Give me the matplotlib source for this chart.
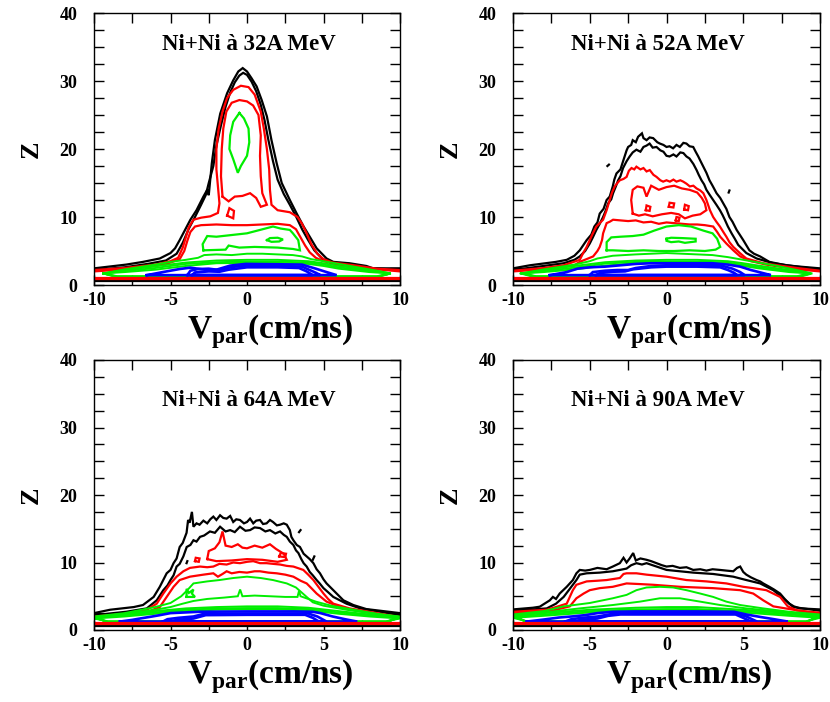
import matplotlib
matplotlib.use("Agg")
import matplotlib.pyplot as plt
from matplotlib.ticker import MultipleLocator

plt.rcParams['font.family'] = ['Liberation Serif', 'DejaVu Serif']
plt.rcParams['font.weight'] = 'bold'
plt.rcParams['mathtext.fontset'] = 'custom'
plt.rcParams['mathtext.rm'] = 'Liberation Serif:bold'
plt.rcParams['mathtext.bf'] = 'Liberation Serif:bold'
plt.rcParams['axes.unicode_minus'] = False

RED = '#ff0000'
GREEN = '#00ee00'
BLUE = '#0000ff'

titles = ['Ni+Ni à 32A MeV', 'Ni+Ni à 52A MeV', 'Ni+Ni à 64A MeV', 'Ni+Ni à 90A MeV']

# ---------------- Ni+Ni 32A MeV ----------------
n32_black1 = [(-10, 2.45), (-7.9, 3.0), (-6.8, 3.4), (-5.7, 3.9), (-5.0, 4.7), (-4.7, 5.4), (-4.4, 6.6),
              (-4.05, 8.1), (-3.7, 9.6), (-3.3, 11.0), (-2.85, 13.0), (-2.6, 14.0), (-2.5, 13.2), (-2.3, 17.9),
              (-2.1, 21.3), (-1.75, 25.2), (-1.3, 28.2), (-0.9, 30.1), (-0.57, 31.4), (-0.28, 31.9), (0.0, 31.4),
              (0.3, 30.4), (0.63, 29.2), (0.96, 27.2), (1.3, 24.8), (1.6, 21.3), (1.94, 17.9), (2.27, 15.0),
              (2.8, 12.5), (3.25, 10.5), (3.7, 8.6), (4.1, 7.1), (4.55, 5.4), (5.2, 3.9), (5.64, 3.4),
              (6.7, 3.2), (7.8, 2.8), (8.25, 2.45), (10, 2.45)]
n32_black2 = [(-10, 2.2), (-8, 2.6), (-6.5, 3.1), (-5.3, 3.6), (-4.6, 4.6), (-4.2, 6.2), (-3.8, 8.3),
              (-3.4, 10.0), (-3.0, 11.8), (-2.7, 13.2), (-2.5, 15.0), (-2.2, 17.5), (-2.0, 20.5), (-1.7, 23.5),
              (-1.4, 26.2), (-1.1, 28.3), (-0.8, 29.8), (-0.5, 30.8), (-0.25, 31.2), (0.0, 30.9), (0.3, 29.9),
              (0.6, 28.5), (0.9, 26.5), (1.15, 24.2), (1.4, 21.3), (1.7, 18.2), (2.0, 15.5), (2.4, 13.4),
              (2.8, 11.8), (3.2, 10.1), (3.6, 8.2), (4.0, 6.6), (4.4, 5.1), (4.9, 3.9), (5.5, 3.2), (7, 2.9),
              (8, 2.5), (10, 2.2)]
n32_red1 = [(-10, 2.2), (-8, 2.5), (-6, 3.0), (-5, 3.5), (-4.5, 4.0), (-4.2, 5.5), (-4.0, 7.0), (-3.8, 8.5),
            (-3.5, 9.6), (-3.0, 9.9), (-2.4, 10.1), (-1.9, 10.6), (-1.8, 12.0), (-1.9, 14.5), (-2.0, 17.0),
            (-2.0, 20.0), (-1.85, 23.0), (-1.6, 25.5), (-1.3, 27.5), (-0.9, 28.7), (-0.4, 29.3), (0.1, 29.1),
            (0.5, 28.0), (0.9, 25.5), (1.1, 23.0), (1.3, 20.0), (1.45, 17.0), (1.5, 14.0), (1.6, 11.8),
            (2.0, 11.0), (2.8, 10.7), (3.3, 10.0), (3.6, 9.0), (3.9, 7.6), (4.2, 6.0), (4.6, 4.6), (5.0, 3.8),
            (5.6, 3.3), (7, 2.9), (8.5, 2.4), (10, 2.2)]
n32_red2 = [(-10, 2.0), (-8, 2.3), (-6, 2.8), (-5, 3.3), (-4.4, 3.8), (-4.1, 5.0), (-3.9, 6.5), (-3.7, 7.8),
            (-3.4, 8.6), (-3, 8.8), (-2, 8.9), (-1, 8.8), (0, 8.8), (1, 8.9), (2, 9.0), (2.8, 8.8), (3.2, 8.2),
            (3.5, 7.0), (3.8, 5.8), (4.1, 4.8), (4.5, 4.0), (5.0, 3.5), (6, 3.0), (8, 2.4), (10, 2.0)]
n32_red_islands = [
    [(-1.6, 13), (-1.7, 16), (-1.65, 20), (-1.55, 23), (-1.35, 25.5), (-1.0, 26.8), (-0.5, 27.2), (0, 27),
     (0.4, 26.4), (0.75, 25), (0.9, 22), (0.85, 19), (0.9, 16), (1.0, 13.5), (1.3, 11.8), (0.9, 11.5),
     (0.6, 12.8), (0.2, 13.5), (-0.3, 13.1), (-0.8, 13.0), (-1.2, 12.3), (-1.6, 13)],
    [(-1.3, 10.2), (-1.15, 11.3), (-0.85, 10.9), (-0.9, 9.8), (-1.3, 10.2)],
]
n32_green_islands = [
    [(-0.5, 25.3), (-0.9, 24), (-1.1, 22), (-1.15, 20), (-0.9, 18.5), (-0.6, 16.5), (-0.4, 17.5), (0, 19),
     (0.15, 21), (0.1, 23), (-0.2, 24.5), (-0.5, 25.3)],
    [(-2.85, 5.1), (-2.9, 6.0), (-2.6, 7.2), (-2, 7.1), (-1, 7.35), (0, 7.6), (0.85, 8.1), (1.7, 8.6),
     (2.2, 8.3), (2.8, 8.1), (3.0, 7.6), (3.35, 6.6), (3.46, 5.1), (3.0, 5.3), (2, 5.5), (0.5, 5.6),
     (-0.5, 5.5), (-1.2, 5.8), (-1.4, 5.2), (-2.85, 5.1)],
    [(1.3, 6.6), (1.5, 6.9), (2.0, 6.95), (2.35, 6.7), (2.1, 6.4), (1.6, 6.35), (1.3, 6.6)],
]
n32_green_band = [
    [(-9.4, 1.7), (-8, 2.3), (-6, 3.0), (-5, 3.4), (-4, 3.7), (-3.2, 4.0), (-2.8, 4.4), (-2, 4.5), (-1, 4.4),
     (0, 4.6), (1, 4.6), (2, 4.5), (3, 4.4), (3.6, 4.2), (4.2, 3.8), (5, 3.5), (6, 3.1), (7, 2.7), (8.5, 2.1),
     (9.4, 1.7)],
    [(-9.4, 1.7), (-8, 2.2), (-6, 2.75), (-4, 3.3), (-2, 3.6), (0, 3.7), (2, 3.7), (4, 3.5), (5, 3.2), (6, 2.8),
     (8, 2.2), (9.4, 1.7)],
    [(-9.4, 1.7), (-8, 2.05), (-6, 2.5), (-4, 3.1), (-2, 3.35), (0, 3.45), (2, 3.45), (4, 3.3), (5, 3.0),
     (6, 2.6), (8, 2.05), (9.4, 1.7)],
    [(-9.4, 1.7), (-8, 1.9), (-6, 2.25), (-4, 2.8), (-2, 3.2), (0, 3.25), (2, 3.25), (4, 3.1), (5, 2.8),
     (6, 2.4), (8, 1.9), (9.4, 1.7)],
]
n32_blue = [
    [(-6.55, 1.45), (-5.5, 1.9), (-4.4, 2.35), (-3.7, 2.55), (-2.6, 2.2), (-2.0, 2.25), (-1.1, 2.85),
     (-0.1, 3.1), (2, 3.05), (3.6, 3.0), (4.5, 2.4), (5.2, 1.9), (5.86, 1.45)],
    [(-3.9, 1.45), (-3.7, 2.1), (-3.2, 2.35), (-2.5, 2.4), (-1.8, 2.2), (-1.3, 2.5), (-0.8, 2.7), (0, 2.8),
     (2, 2.8), (3.6, 2.7), (4.0, 2.3), (4.5, 1.8), (4.8, 1.45)],
    [(-3.6, 1.45), (-3.4, 1.85), (-2.5, 2.0), (-1.8, 1.95), (-1.2, 2.25), (0, 2.6), (2, 2.6), (3.4, 2.5),
     (3.9, 2.0), (4.3, 1.45)],
]
n32_floors = [0.55, 0.7, 0.85, 1.0, 1.15, 1.45]
n32_marks = []

# ---------------- Ni+Ni 52A MeV ----------------
n52_black1 = [(-10, 2.45), (-8.9, 2.9), (-7.2, 3.4), (-6.5, 3.7), (-6.0, 4.3), (-5.65, 5.1), (-5.2, 6.6),
              (-4.9, 7.4), (-4.7, 8.6), (-4.5, 9.2), (-4.35, 10.5), (-4.1, 11.2), (-3.9, 12.5), (-3.7, 13.0),
              (-3.5, 14.5), (-3.4, 15.5), (-3.26, 16.4), (-3.0, 17.0), (-2.8, 18.4), (-2.6, 19.8), (-2.5, 20.3),
              (-2.3, 20.6), (-2.2, 21.3), (-2.0, 21.0), (-1.85, 21.8), (-1.6, 22.3), (-1.5, 21.6), (-1.3, 21.3),
              (-1.1, 21.7), (-0.87, 21.6), (-0.6, 21.0), (-0.43, 20.8), (-0.2, 20.6), (0.0, 20.3), (0.2, 20.4),
              (0.43, 20.1), (0.65, 20.6), (0.87, 20.3), (1.1, 20.9), (1.3, 20.8), (1.5, 20.4), (1.74, 20.3),
              (1.9, 19.6), (2.07, 18.9), (2.2, 18.3), (2.4, 17.4), (2.6, 16.5), (2.8, 15.4), (3.0, 14.6),
              (3.26, 13.5), (3.5, 12.8), (3.7, 12.0), (3.9, 11.2), (4.1, 10.0), (4.3, 9.3), (4.57, 8.1),
              (4.8, 7.3), (5.0, 6.6), (5.4, 5.1), (5.7, 4.6), (6.1, 4.2), (6.7, 3.4), (7.8, 2.9), (8.7, 2.7),
              (10, 2.45)]
n52_black2 = [(-10, 2.2), (-8, 2.8), (-6.7, 3.2), (-6.0, 3.7), (-5.65, 4.2), (-5.3, 5.0), (-5.0, 6.1),
              (-4.8, 7.0), (-4.57, 8.1), (-4.35, 9.0), (-4.13, 10.0), (-3.95, 11.0), (-3.8, 12.0), (-3.6, 12.6),
              (-3.48, 13.5), (-3.3, 14.5), (-3.15, 15.4), (-3.0, 16.0), (-2.83, 17.2), (-2.6, 18.2), (-2.4, 18.9),
              (-2.2, 19.5), (-1.96, 19.9), (-1.7, 19.6), (-1.5, 20.3), (-1.3, 20.5), (-1.1, 20.8), (-0.9, 20.2),
              (-0.65, 20.3), (-0.4, 19.8), (-0.2, 19.6), (0.0, 19.0), (0.2, 18.9), (0.45, 19.2), (0.65, 18.9),
              (0.9, 19.5), (1.1, 19.4), (1.3, 18.9), (1.5, 18.6), (1.75, 17.8), (1.96, 16.9), (2.1, 16.2),
              (2.28, 15.4), (2.45, 14.8), (2.6, 14.0), (2.8, 13.3), (3.04, 12.5), (3.25, 11.8), (3.48, 11.0),
              (3.65, 10.3), (3.8, 9.6), (4.0, 8.6), (4.24, 7.6), (4.45, 6.8), (4.67, 5.9), (5.2, 4.7),
              (5.87, 3.9), (6.96, 3.2), (8.5, 2.7), (10, 2.3)]
n52_red1 = [(-10, 2.1), (-8, 2.5), (-6.7, 2.9), (-5.65, 3.7), (-5.43, 4.7), (-5.2, 5.6), (-5.0, 6.6),
            (-4.8, 7.6), (-4.57, 8.6), (-4.35, 9.1), (-4.13, 9.6), (-3.9, 11.0), (-3.7, 12.5), (-3.55, 13.6),
            (-3.37, 14.5), (-3.2, 15.0), (-3.04, 15.4), (-2.8, 15.6), (-2.6, 15.9), (-2.45, 16.8), (-2.28, 17.2),
            (-2.1, 17.0), (-1.96, 17.4), (-1.7, 17.0), (-1.5, 17.2), (-1.3, 16.7), (-1.09, 16.9), (-0.85, 16.2),
            (-0.65, 15.9), (-0.4, 15.4), (-0.22, 15.2), (0.0, 15.4), (0.22, 15.2), (0.45, 15.5), (0.65, 15.2),
            (0.9, 15.4), (1.09, 15.2), (1.3, 14.9), (1.52, 14.5), (1.75, 14.6), (1.96, 14.2), (2.2, 13.9),
            (2.4, 13.5), (2.6, 12.5), (2.83, 11.0), (3.04, 10.0), (3.25, 9.3), (3.48, 8.6), (3.7, 7.8),
            (3.9, 7.1), (4.1, 6.3), (4.35, 5.6), (4.78, 4.7), (5.2, 3.9), (6.3, 3.2), (8.5, 2.5), (10, 2.1)]
n52_red2 = [(-10, 2.0), (-8, 2.3), (-6, 2.9), (-5.65, 3.4), (-4.78, 4.2), (-4.5, 5.0), (-4.35, 5.6),
            (-4.2, 6.6), (-4.13, 7.6), (-3.9, 9.1), (-3.7, 9.3), (-3.48, 9.6), (-3, 9.5), (-2.5, 9.4), (-2, 9.5),
            (-1.5, 9.2), (-1, 9.3), (-0.5, 9.0), (0, 9.2), (0.5, 9.1), (1, 9.0), (1.5, 8.9), (2, 8.9), (2.5, 8.8),
            (3.04, 8.6), (3.3, 7.8), (3.5, 7.1), (3.9, 6.1), (4.35, 5.1), (4.8, 4.2), (5.5, 3.5), (6.5, 3.0),
            (8.5, 2.3), (10, 2.0)]
n52_red_islands = [
    [(-2.2, 10.5), (-2.3, 12.5), (-2.2, 14.0), (-1.9, 14.5), (-1.5, 14.3), (-1.3, 13.0), (-1.0, 14.6),
     (-0.5, 14.0), (0, 14.4), (0.5, 14.6), (1.0, 14.2), (1.5, 14.0), (2.0, 13.6), (2.3, 12.8), (2.5, 12),
     (2.6, 11), (2.2, 10.4), (1.7, 10.2), (1.2, 9.8), (0.8, 10.4), (0.3, 10.6), (-0.3, 10.4), (-0.9, 10.1),
     (-1.4, 10.4), (-1.8, 10.2), (-2.2, 10.5)],
    [(-1.35, 11.0), (-1.3, 11.7), (-1.05, 11.5), (-1.1, 10.9), (-1.35, 11.0)],
    [(0.15, 11.5), (0.2, 12.1), (0.5, 12.0), (0.45, 11.4), (0.15, 11.5)],
    [(1.15, 11.1), (1.2, 11.8), (1.45, 11.6), (1.4, 11.0), (1.15, 11.1)],
    [(0.6, 9.5), (0.65, 10.0), (0.85, 9.9), (0.8, 9.4), (0.6, 9.5)],
]
n52_green_islands = [
    [(-3.9, 5.1), (-3.9, 6.3), (-3.6, 7.0), (-3.0, 7.1), (-2.2, 7.2), (-1.5, 7.4), (-0.8, 8.0), (0, 8.6),
     (0.8, 8.8), (1.6, 8.6), (2.4, 8.0), (3.0, 7.6), (3.3, 6.8), (3.5, 5.6), (3.2, 5.2), (2.5, 5.0),
     (1.5, 5.1), (0.5, 5.0), (-0.5, 5.0), (-1.5, 5.1), (-2.5, 5.0), (-3.5, 5.1), (-3.9, 5.1)],
    [(0.0, 6.8), (0.3, 6.95), (1.0, 6.9), (1.9, 6.8), (1.9, 6.4), (1.2, 6.2), (0.8, 6.4), (0.3, 6.3),
     (0.0, 6.5), (0.0, 6.8)],
]
n52_green_band = [
    [(-9.5, 1.7), (-8, 2.3), (-6, 3.0), (-5, 3.5), (-4.5, 3.9), (-3.5, 4.3), (-2, 4.5), (0, 4.7), (1, 4.6),
     (2, 4.5), (3, 4.4), (4, 4.1), (5, 3.7), (6, 3.3), (7, 2.9), (8.5, 2.2), (9.5, 1.7)],
    [(-9.4, 1.7), (-8, 2.2), (-6, 2.8), (-4, 3.35), (-2, 3.6), (0, 3.7), (2, 3.7), (4, 3.5), (5, 3.2),
     (6, 2.85), (8, 2.2), (9.4, 1.7)],
    [(-9.4, 1.7), (-8, 2.05), (-6, 2.55), (-4, 3.15), (-2, 3.4), (0, 3.45), (2, 3.45), (4, 3.3), (5, 3.0),
     (6, 2.65), (8, 2.05), (9.4, 1.7)],
    [(-9.4, 1.7), (-8, 1.9), (-6, 2.3), (-4, 2.85), (-2, 3.2), (0, 3.3), (2, 3.3), (4, 3.1), (5, 2.8),
     (6, 2.45), (8, 1.9), (9.4, 1.7)],
]
n52_blue = [
    [(-7.6, 1.45), (-6.5, 1.9), (-5.8, 2.4), (-5, 2.6), (-4, 2.7), (-3, 2.9), (-2, 3.1), (-1, 3.2), (0, 3.2),
     (2, 3.2), (3, 3.2), (4, 3.0), (4.8, 2.7), (5.5, 2.2), (6.2, 1.8), (6.8, 1.45)],
    [(-5.0, 1.45), (-4.8, 1.9), (-4, 2.1), (-3.2, 2.2), (-2.5, 2.2), (-2.0, 2.5), (-1, 2.8), (0, 2.9),
     (2, 2.9), (3.5, 2.9), (4.3, 2.4), (4.8, 1.9), (5.1, 1.45)],
    [(-4.6, 1.45), (-4.3, 1.8), (-3.5, 1.95), (-2.7, 2.0), (-2.2, 2.3), (-1, 2.6), (0, 2.7), (2, 2.7),
     (3.5, 2.6), (4.0, 2.2), (4.4, 1.8), (4.6, 1.45)],
]
n52_floors = [0.55, 0.7, 0.85, 1.0, 1.15, 1.45]
n52_marks = [[(-3.85, 17.5), (-3.75, 17.7)], [(4.05, 13.6), (4.1, 13.9)]]

# ---------------- Ni+Ni 64A MeV ----------------
n64_black1 = [(-10, 2.5), (-8.95, 3.0), (-7.4, 3.4), (-6.8, 3.7), (-6.1, 4.9), (-5.7, 6.4), (-5.25, 8.4),
              (-5.0, 8.9), (-4.8, 9.9), (-4.6, 10.6), (-4.4, 12.3), (-4.2, 12.9), (-4.05, 13.8), (-3.95, 14.4),
              (-3.85, 16.3), (-3.75, 15.9), (-3.6, 17.5), (-3.5, 15.3), (-3.3, 15.8), (-3.1, 15.6), (-2.85, 16.2),
              (-2.6, 15.8), (-2.4, 16.4), (-2.2, 16.8), (-2.0, 16.3), (-1.76, 17.0), (-1.55, 16.6), (-1.33, 16.5),
              (-1.1, 16.9), (-0.9, 16.0), (-0.7, 16.4), (-0.46, 16.3), (-0.2, 15.8), (0, 16.0), (0.2, 16.5),
              (0.41, 15.8), (0.6, 16.2), (0.85, 16.3), (1.05, 15.7), (1.28, 15.8), (1.5, 16.3), (1.7, 16.0),
              (1.95, 15.5), (2.16, 15.6), (2.4, 15.8), (2.6, 15.6), (2.8, 14.8), (2.9, 13.8), (3.03, 13.3),
              (3.25, 12.6), (3.46, 12.3), (3.7, 11.3), (3.9, 10.9), (4.1, 10.5), (4.34, 9.9), (4.55, 9.0),
              (4.77, 8.4), (5.0, 7.5), (5.2, 6.9), (5.64, 5.9), (6.3, 4.4), (6.95, 3.7), (7.8, 3.1), (10, 2.5)]
n64_black2 = [(-10, 2.2), (-7.9, 2.7), (-6.55, 3.2), (-5.9, 4.4), (-5.47, 5.9), (-5.2, 6.6), (-5.0, 7.4),
              (-4.8, 8.1), (-4.6, 9.4), (-4.4, 9.8), (-4.16, 10.9), (-3.94, 12.3), (-3.7, 12.6), (-3.5, 13.3),
              (-3.3, 13.1), (-3.07, 13.8), (-2.8, 14.0), (-2.42, 14.6), (-2.1, 14.4), (-1.76, 15.3), (-1.4, 14.6),
              (-1.1, 14.8), (-0.8, 14.5), (-0.46, 15.3), (-0.1, 14.7), (0.2, 14.8), (0.5, 15.2), (0.85, 15.1),
              (1.2, 14.6), (1.5, 14.8), (1.85, 14.3), (2.16, 14.6), (2.4, 14.1), (2.6, 13.8), (2.8, 13.1),
              (3.03, 12.6), (3.2, 11.8), (3.36, 11.4), (3.55, 10.5), (3.7, 9.9), (3.9, 9.4), (4.1, 8.6),
              (4.3, 8.1), (4.55, 7.4), (4.75, 6.9), (5, 6.2), (5.3, 5.6), (5.64, 4.9), (6.5, 3.9), (7.4, 3.2),
              (10, 2.2)]
n64_red1 = [(-10, 2.0), (-7.9, 2.4), (-6.55, 3.0), (-5.9, 3.9), (-5.47, 5.4), (-5.0, 6.9), (-4.6, 7.9),
            (-4.16, 8.7), (-3.73, 9.2), (-3.07, 9.4), (-2.6, 9.3), (-2.2, 9.4), (-1.8, 9.8), (-1.33, 9.7),
            (-0.9, 10.0), (-0.46, 9.9), (0, 10.1), (0.41, 10.2), (0.85, 9.9), (1.28, 9.9), (1.7, 9.8),
            (2.16, 9.7), (2.6, 9.5), (3.03, 9.4), (3.68, 8.9), (4.0, 8.2), (4.34, 7.4), (4.7, 6.3), (5.0, 5.4),
            (5.3, 4.6), (5.64, 3.9), (6.7, 3.2), (10, 1.9)]
n64_red2 = [(-10, 1.8), (-6.8, 2.4), (-5.7, 3.4), (-5.25, 4.9), (-4.8, 6.4), (-4.4, 7.4), (-3.73, 7.9),
            (-2.85, 8.2), (-2.2, 8.4), (-1.9, 7.9), (-1.6, 8.3), (-1.33, 8.7), (-1, 8.4), (-0.5, 8.6), (0, 8.5),
            (0.5, 8.7), (0.85, 8.7), (1.4, 8.5), (1.94, 8.4), (2.5, 8.2), (3.03, 7.9), (3.5, 7.3), (3.9, 6.9),
            (4.25, 6.1), (4.55, 5.4), (5.2, 4.2), (6.3, 3.2), (10, 1.8)]
n64_red_islands = [
    [(-2.6, 10.5), (-2.5, 11.7), (-2.1, 12.1), (-1.8, 13.0), (-1.6, 14.6), (-1.4, 12.5), (-1.0, 12.3),
     (-0.6, 12.7), (-0.3, 12.2), (0, 12.1), (0.5, 12.5), (1.0, 12.2), (1.5, 12.7), (1.9, 12.0), (2.4, 11.3),
     (2.6, 10.4), (2, 10.1), (1, 10.4), (0, 10.5), (-1, 10.3), (-2, 10.2), (-2.6, 10.5)],
    [(2.1, 10.9), (2.2, 11.4), (2.55, 11.3), (2.5, 10.8), (2.1, 10.9)],
    [(-3.4, 10.2), (-3.35, 10.7), (-3.1, 10.6), (-3.15, 10.1), (-3.4, 10.2)],
]
n64_green_islands = [
    [(-3.95, 4.9), (-3.95, 6.1), (-3.8, 5.5), (-3.5, 6.0), (-3.6, 5.4), (-3.4, 4.9), (-3.95, 4.9)],
]
n64_green_band = [
    [(-10, 2.0), (-8, 2.5), (-6, 3.4), (-5.0, 4.0), (-4.3, 5.0), (-3.9, 5.9), (-3.5, 6.9), (-2.6, 7.2),
     (-1.8, 7.4), (-0.9, 7.7), (0, 7.9), (0.9, 7.7), (1.7, 7.4), (2.6, 6.9), (3.2, 6.3), (3.7, 5.3),
     (4.3, 4.1), (5, 3.6), (6.5, 3.0), (8, 2.5), (10, 2.0)],
    [(-10, 1.9), (-8, 2.4), (-6, 3.0), (-5, 3.4), (-4.2, 3.9), (-3.5, 4.3), (-2.6, 4.6), (-1.5, 4.8),
     (-0.6, 5.0), (-0.45, 6.0), (-0.3, 5.0), (0.5, 5.1), (1.5, 5.0), (2.5, 4.9), (3.3, 4.9), (3.4, 5.8),
     (3.5, 5.0), (4.5, 4.2), (5.5, 3.6), (7, 3.0), (8.5, 2.4), (10, 1.9)],
    [(-10, 1.9), (-8, 2.3), (-6, 2.8), (-4, 3.2), (-2, 3.4), (0, 3.5), (2, 3.5), (4, 3.3), (6, 2.8), (8, 2.3),
     (10, 1.9)],
    [(-10, 1.8), (-8, 2.15), (-6, 2.6), (-4, 3.0), (-2, 3.2), (0, 3.25), (2, 3.25), (4, 3.1), (6, 2.6),
     (8, 2.15), (10, 1.8)],
    [(-10, 1.7), (-8, 2.0), (-6, 2.4), (-4, 2.8), (-2, 3.0), (0, 3.05), (2, 3.05), (4, 2.9), (6, 2.4),
     (8, 2.0), (10, 1.7)],
]
n64_blue = [
    [(-8.3, 1.25), (-7.5, 1.5), (-7, 1.7), (-6.2, 2.0), (-5.7, 2.2), (-5, 2.5), (-3.1, 2.7), (0, 2.75),
     (3, 2.75), (4.3, 2.7), (4.8, 2.5), (5.6, 2.0), (6.4, 1.6), (7.2, 1.25)],
    [(-5.5, 1.25), (-5.2, 1.6), (-4.5, 1.8), (-3.5, 2.0), (-2.8, 2.4), (0, 2.45), (4.0, 2.45), (4.6, 2.0),
     (5.2, 1.25)],
    [(-5.0, 1.25), (-4.6, 1.5), (-3.5, 1.7), (-2.7, 2.2), (0, 2.25), (3.8, 2.25), (4.3, 1.8), (4.7, 1.25)],
]
n64_floors = [0.6, 0.75, 0.9, 1.0, 1.1, 1.25]
n64_marks = [[(3.4, 14.5), (3.5, 14.8)], [(4.3, 10.4), (4.4, 10.9)], [(-3.95, 9.9), (-3.9, 10.2)]]

# ---------------- Ni+Ni 90A MeV ----------------
n90_black1 = [(-10, 3.05), (-8.7, 3.3), (-8.26, 3.45), (-7.6, 4.4), (-7.4, 4.9), (-7.2, 4.6), (-6.96, 5.4),
              (-6.5, 6.4), (-6.1, 7.4), (-5.87, 8.4), (-5.65, 8.9), (-5.3, 8.8), (-5.0, 8.9), (-4.5, 9.2),
              (-3.9, 9.0), (-3.5, 9.4), (-3.04, 9.9), (-2.8, 10.7), (-2.6, 10.0), (-2.4, 10.6), (-2.17, 11.4),
              (-2.0, 10.3), (-1.7, 10.6), (-1.3, 10.4), (-1.0, 10.2), (-0.65, 9.9), (-0.3, 9.6), (0, 9.4),
              (0.4, 9.5), (0.87, 9.2), (1.3, 9.3), (1.74, 8.9), (2.2, 9.0), (2.6, 8.8), (3.0, 9.0), (3.48, 8.9),
              (3.9, 8.8), (4.35, 8.7), (4.6, 9.2), (4.8, 9.4), (5.0, 8.6), (5.2, 8.2), (5.5, 7.8), (5.87, 7.4),
              (6.1, 7.2), (6.3, 6.9), (6.7, 6.4), (7.0, 6.0), (7.4, 5.4), (7.7, 4.6), (8.0, 3.9), (8.3, 3.5),
              (8.7, 3.2), (10, 3.05)]
n90_black2 = [(-10, 2.85), (-7.8, 3.2), (-7.2, 3.9), (-6.7, 4.9), (-6.3, 6.1), (-5.87, 7.4), (-5.65, 8.2),
              (-5.2, 8.4), (-4.35, 8.5), (-3.5, 8.7), (-3.04, 8.9), (-2.6, 9.1), (-2.3, 9.6), (-1.96, 9.9),
              (-1.6, 9.7), (-1.3, 9.9), (-0.65, 9.4), (0, 8.9), (0.87, 8.7), (1.74, 8.5), (3.04, 8.3), (4.35, 7.9),
              (5.2, 7.4), (6.1, 6.9), (6.96, 5.9), (7.6, 4.7), (8.26, 3.4), (10, 2.85)]
n90_red1 = [(-10, 2.7), (-7.8, 3.0), (-7.2, 3.4), (-6.5, 3.9), (-6.1, 5.9), (-5.87, 6.7), (-5.2, 7.2),
            (-4.5, 7.3), (-3.9, 7.4), (-3.04, 7.7), (-2.8, 8.3), (-2.6, 8.4), (-1.96, 8.4), (-1.3, 8.2), (0, 7.9),
            (1.3, 7.4), (2.6, 7.2), (3.9, 6.9), (5.0, 6.4), (5.65, 6.2), (6.5, 5.9), (7.4, 4.9), (7.9, 3.5),
            (8.5, 2.9), (10, 2.55)]
n90_red2 = [(-10, 2.45), (-7.4, 2.9), (-6.3, 3.5), (-5.87, 4.7), (-5.4, 5.4), (-5.0, 5.9), (-4.35, 6.2),
            (-3.5, 6.4), (-2.6, 6.9), (-1.7, 6.8), (-0.87, 6.7), (0.87, 6.4), (3.04, 6.2), (4.8, 5.9),
            (5.65, 5.4), (6.3, 4.4), (6.96, 3.5), (10, 2.35)]
n90_red_islands = []
n90_green_islands = []
n90_green_band = [
    [(-10, 2.3), (-8, 2.8), (-6.7, 3.5), (-5, 4.0), (-3.5, 4.7), (-2.6, 5.2), (-1.96, 5.9), (-1.3, 6.3),
     (-0.43, 6.4), (0.43, 6.3), (1.3, 5.9), (2.2, 5.4), (3.04, 4.9), (3.9, 4.2), (4.8, 3.7), (6.3, 3.2),
     (8, 2.7), (10, 2.3)],
    [(-10, 2.2), (-8, 2.6), (-5.65, 3.2), (-3.5, 3.7), (-1.74, 4.2), (-0.43, 4.7), (0.87, 4.7), (2.2, 4.2),
     (3.5, 3.7), (5.2, 3.2), (8, 2.6), (10, 2.2)],
    [(-10, 2.1), (-8, 2.5), (-5, 3.0), (-2, 3.3), (0, 3.4), (2, 3.4), (5, 3.0), (8, 2.5), (10, 2.1)],
    [(-10, 1.95), (-8, 2.3), (-5, 2.8), (-2, 3.05), (0, 3.1), (2, 3.1), (5, 2.8), (8, 2.3), (10, 1.95)],
    [(-10, 1.8), (-8, 2.1), (-5, 2.6), (-2, 2.85), (0, 2.9), (2, 2.9), (5, 2.6), (8, 2.1), (10, 1.8)],
]
n90_blue = [
    [(-9.1, 1.25), (-8, 1.55), (-7, 1.85), (-6.2, 2.0), (-5.3, 2.2), (-4.5, 2.5), (-3.5, 2.7), (-2, 2.75),
     (0, 2.75), (2, 2.75), (4.4, 2.7), (5.2, 2.3), (6.2, 1.9), (7.0, 1.6), (7.9, 1.25)],
    [(-6.6, 1.25), (-6.2, 1.6), (-5.5, 1.8), (-4.5, 2.0), (-3.5, 2.4), (-2, 2.5), (0, 2.5), (2, 2.5),
     (4.5, 2.5), (5.2, 2.0), (5.9, 1.25)],
    [(-6.0, 1.25), (-5.6, 1.5), (-4.5, 1.7), (-3.8, 2.1), (-3, 2.3), (0, 2.3), (4.5, 2.3), (5.0, 1.8),
     (5.5, 1.25)],
]
n90_floors = [0.6, 0.75, 0.9, 1.0, 1.1, 1.25]
n90_marks = []

panels = [
    (n32_black1, n32_black2, n32_red1, n32_red2, n32_red_islands, n32_green_islands, n32_green_band, n32_blue,
     n32_floors, n32_marks),
    (n52_black1, n52_black2, n52_red1, n52_red2, n52_red_islands, n52_green_islands, n52_green_band, n52_blue,
     n52_floors, n52_marks),
    (n64_black1, n64_black2, n64_red1, n64_red2, n64_red_islands, n64_green_islands, n64_green_band, n64_blue,
     n64_floors, n64_marks),
    (n90_black1, n90_black2, n90_red1, n90_red2, n90_red_islands, n90_green_islands, n90_green_band, n90_blue,
     n90_floors, n90_marks),
]

# axes boxes in pixels (left, top, right, bottom) of the 830x702 picture
W, H = 830, 702
boxes = [(94, 13, 400, 285), (513, 13, 820, 285), (94, 360, 400, 630), (513, 360, 820, 630)]
title_pos = [(0.506, 0.883), (0.472, 0.883), (0.506, 0.85), (0.472, 0.85)]

LW = 1.6


def line(ax, pts, color, lw=LW):
    ax.plot([p[0] for p in pts], [p[1] for p in pts], color=color, lw=lw, solid_joinstyle='miter')


def lens(pts, zb):
    # close a band contour on its floor
    v0, v1 = pts[0][0], pts[-1][0]
    return list(pts) + [(v1 - 0.9, zb), (v0 + 0.9, zb), pts[0]]


fig = plt.figure(figsize=(W / 100, H / 100), dpi=100)

for i, (b1, b2, r1, r2, risl, gisl, gband, blues, floors, marks) in enumerate(panels):
    l, t, r, b = boxes[i]
    ax = fig.add_axes([l / W, 1 - b / H, (r - l) / W, (b - t) / H])

    line(ax, b1, 'black')
    line(ax, b2, 'black')
    line(ax, r1, RED)
    line(ax, r2, RED)
    for isl in risl:
        line(ax, isl, RED)
    for k, g in enumerate(gband):
        line(ax, lens(g, floors[4] + 0.05 * k), GREEN, lw=1.4)
    for isl in gisl:
        line(ax, isl, GREEN)
    for bl in blues:
        line(ax, bl + [bl[0]], BLUE, lw=1.9)
    for m in marks:
        line(ax, m, 'black')
    # floors of the big contours
    ax.plot([-10, 10], [floors[0], floors[0]], color='black', lw=LW)
    ax.plot([-10, 10], [floors[1], floors[1]], color='black', lw=LW)
    ax.plot([-10, 10], [floors[2], floors[2]], color=RED, lw=LW)
    ax.plot([-10, 10], [floors[3], floors[3]], color=RED, lw=LW)

    ax.set_xlim(-10, 10)
    ax.set_ylim(0, 40)
    ax.xaxis.set_major_locator(MultipleLocator(5))
    ax.xaxis.set_minor_locator(MultipleLocator(2.5))
    ax.yaxis.set_major_locator(MultipleLocator(10))
    ax.yaxis.set_minor_locator(MultipleLocator(2.5))
    ax.tick_params(which='both', direction='in', top=True, right=True, length=7, width=1.0)
    ax.tick_params(axis='x', which='major', labelsize=13, pad=5)
    ax.tick_params(axis='y', which='major', labelsize=13, pad=12)
    for lab in ax.get_xticklabels() + ax.get_yticklabels():
        lab.set_fontweight('bold')
    for s in ax.spines.values():
        s.set_linewidth(1.0)

    ax.set_xlabel(r'$\mathbf{V}_{\mathbf{par}}$(cm/ns)', fontsize=24, fontweight='bold')
    ax.xaxis.set_label_coords(0.575, -0.1)
    ax.set_ylabel('Z', fontsize=19, fontweight='bold', labelpad=12)
    ax.text(title_pos[i][0], title_pos[i][1], titles[i], transform=ax.transAxes, ha='center', va='center',
            fontsize=16.5, fontweight='bold')

fig.savefig('out.png', dpi=100)
